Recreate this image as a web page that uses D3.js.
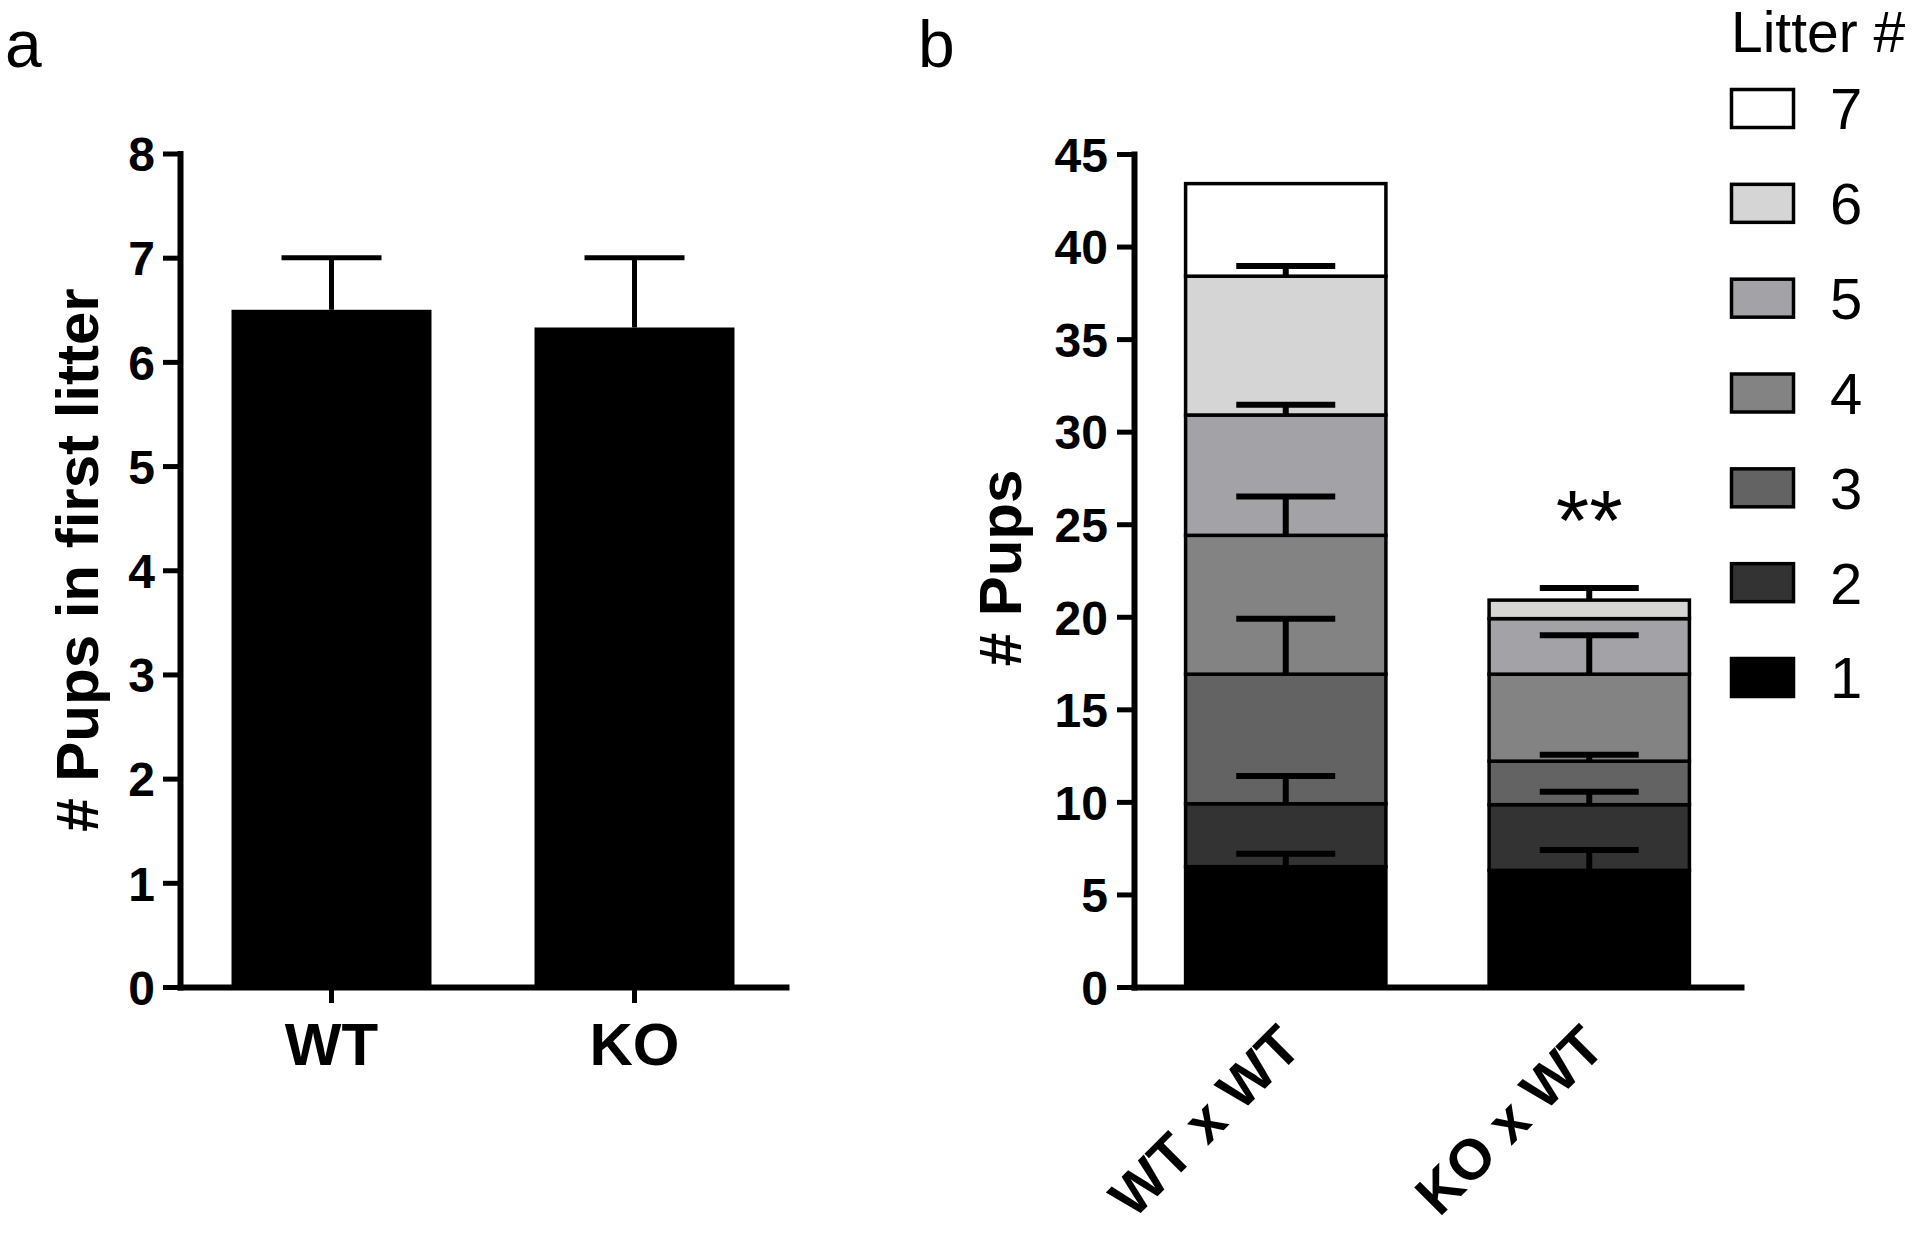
<!DOCTYPE html>
<html>
<head>
<meta charset="utf-8">
<script src="https://cdn.jsdelivr.net/npm/d3@7"></script>
<style>
  html, body { margin: 0; padding: 0; background: #fff; }
  svg { display: block; }
  text { font-family: "Liberation Sans", Arial, Helvetica, sans-serif; fill: #000; }
</style>
</head>
<body>
<svg id="chart" width="1920" height="1233"></svg>
<script>
// ---------- Data ----------
// Panel a
const groupsA = ["WT", "KO"];
const meansA = [6.5, 6.33];
const semA = [0.5, 0.67];
const ticksA = [0, 1, 2, 3, 4, 5, 6, 7, 8];

// Panel b
const groupsB = ["WT x WT", "KO x WT"];
const litters = ["1", "2", "3", "4", "5", "6", "7"];
const wtLitterPups = [6.5, 3.4, 7.0, 7.5, 6.5, 7.5, 5.0];
const koLitterPups = [6.3, 3.55, 2.35, 4.7, 3.0, 1.0, 0];
const wtLitterSem = [0.7, 1.5, 3.0, 2.1, 0.55, 0.55, 0];
const koLitterSem = [1.1, 0.7, 0.35, 2.1, 0, 0.65, 0];
const ticksB = [0, 5, 10, 15, 20, 25, 30, 35, 40, 45];
const significance = ["", "**"];

const litterColors = ["#000000", "#333333", "#636363", "#838383", "#a3a2a7", "#d5d5d5", "#ffffff"];

const svg = d3.select("#chart");
const FONT_TICK = 48, FONT_TITLE = 60;

// ---------- Panel a ----------
(function () {
  const x = d3.scaleBand().domain(groupsA).range([180, 786]).paddingInner(0.34).paddingOuter(0.17);
  const y = d3.scaleLinear().domain([0, 8]).range([987, 153.5]);
  const g = svg.append("g");

  g.selectAll("rect.bar").data(groupsA).join("rect")
    .attr("x", d => x(d)).attr("width", x.bandwidth())
    .attr("y", (d, i) => y(meansA[i])).attr("height", (d, i) => y(0) - y(meansA[i]))
    .attr("fill", "#000");

  groupsA.forEach((d, i) => {
    const cx = x(d) + x.bandwidth() / 2;
    g.append("line").attr("x1", cx).attr("x2", cx)
      .attr("y1", y(meansA[i])).attr("y2", y(meansA[i] + semA[i]))
      .attr("stroke", "#000").attr("stroke-width", 5);
    g.append("line").attr("x1", cx - 50).attr("x2", cx + 50)
      .attr("y1", y(meansA[i] + semA[i])).attr("y2", y(meansA[i] + semA[i]))
      .attr("stroke", "#000").attr("stroke-width", 5);
  });

  const ya = g.append("g").attr("transform", "translate(180,0)")
    .call(d3.axisLeft(y).tickValues(ticksA).tickSize(17).tickSizeOuter(0).tickPadding(8));
  ya.select(".domain").attr("stroke-width", 6).attr("stroke-linecap", "square");
  ya.selectAll(".tick line").attr("stroke-width", 5);
  ya.selectAll(".tick text").attr("font-size", FONT_TICK).attr("font-weight", "bold")
    .attr("font-family", "Liberation Sans, Arial, sans-serif").attr("dy", "0.36em");

  const xa = g.append("g").attr("transform", "translate(0,987)")
    .call(d3.axisBottom(x).tickSize(16).tickSizeOuter(0));
  xa.select(".domain").attr("stroke-width", 6).attr("stroke-linecap", "square");
  xa.selectAll(".tick line").attr("stroke-width", 5);
  xa.selectAll(".tick text").attr("font-size", FONT_TITLE).attr("font-weight", "bold")
    .attr("font-family", "Liberation Sans, Arial, sans-serif").attr("y", 78).attr("dy", 0);

  g.append("text").attr("transform", "translate(98,560) rotate(-90)")
    .attr("text-anchor", "middle").attr("font-size", FONT_TITLE).attr("font-weight", "bold")
    .text("# Pups in first litter");

  svg.append("text").attr("x", 5).attr("y", 67).attr("font-size", 66).text("a");
})();

// ---------- Panel b ----------
(function () {
  const x = d3.scaleBand().domain(groupsB).range([1134, 1741]).paddingInner(0.34).paddingOuter(0.17);
  const y = d3.scaleLinear().domain([0, 45]).range([987, 154]);
  const g = svg.append("g");

  const rows = groupsB.map((grp, gi) => {
    const vals = gi === 0 ? wtLitterPups : koLitterPups;
    const o = { group: grp };
    litters.forEach((l, li) => { o[l] = vals[li]; });
    return o;
  });
  const sems = [wtLitterSem, koLitterSem];
  const stack = d3.stack().keys(litters)(rows);

  stack.forEach((layer, li) => {
    g.selectAll(null).data(layer.filter(d => d[1] - d[0] > 0)).join("rect")
      .attr("x", d => x(d.data.group)).attr("width", x.bandwidth())
      .attr("y", d => y(d[1])).attr("height", d => y(d[0]) - y(d[1]))
      .attr("fill", litterColors[li]).attr("stroke", "#000").attr("stroke-width", 3.5);
  });

  stack.forEach((layer, li) => {
    layer.forEach((d, gi) => {
      const s = sems[gi][li];
      if (!(s > 0) || d[1] - d[0] <= 0) return;
      const cx = x(d.data.group) + x.bandwidth() / 2;
      g.append("line").attr("x1", cx).attr("x2", cx)
        .attr("y1", y(d[1])).attr("y2", y(d[1] + s))
        .attr("stroke", "#000").attr("stroke-width", 6);
      g.append("line").attr("x1", cx - 49.5).attr("x2", cx + 49.5)
        .attr("y1", y(d[1] + s)).attr("y2", y(d[1] + s))
        .attr("stroke", "#000").attr("stroke-width", 6);
    });
  });

  groupsB.forEach((grp, gi) => {
    if (!significance[gi]) return;
    g.append("text").attr("x", x(grp) + x.bandwidth() / 2).attr("y", 550)
      .attr("text-anchor", "middle").attr("font-size", 86).text(significance[gi]);
  });

  const ya = g.append("g").attr("transform", "translate(1134,0)")
    .call(d3.axisLeft(y).tickValues(ticksB).tickSize(17).tickSizeOuter(0).tickPadding(9));
  ya.select(".domain").attr("stroke-width", 6).attr("stroke-linecap", "square");
  ya.selectAll(".tick line").attr("stroke-width", 5);
  ya.selectAll(".tick text").attr("font-size", FONT_TICK).attr("font-weight", "bold")
    .attr("font-family", "Liberation Sans, Arial, sans-serif").attr("dy", "0.36em");

  const xa = g.append("g").attr("transform", "translate(0,987)")
    .call(d3.axisBottom(x).tickSize(0).tickSizeOuter(0));
  xa.select(".domain").attr("stroke-width", 6).attr("stroke-linecap", "square");
  xa.selectAll(".tick text").remove();
  xa.selectAll(".tick").each(function (d) {
    d3.select(this).append("text")
      .attr("transform", "translate(18,63) rotate(-45)")
      .attr("text-anchor", "end").attr("font-size", 57).attr("font-weight", "bold")
      .attr("font-family", "Liberation Sans, Arial, sans-serif")
      .attr("fill", "#000").text(d);
  });

  g.append("text").attr("transform", "translate(1021,568) rotate(-90)")
    .attr("text-anchor", "middle").attr("font-size", FONT_TITLE).attr("font-weight", "bold")
    .text("# Pups");

  const legendItems = litters.slice().reverse();
  const ly = d3.scalePoint().domain(legendItems).range([88, 657]);
  svg.append("text").attr("x", 1731).attr("y", 52).attr("font-size", 57).text("Litter #");
  const lg = svg.append("g");
  legendItems.forEach(l => {
    const li = litters.indexOf(l);
    lg.append("rect").attr("x", 1731.5).attr("y", ly(l) + 1.5).attr("width", 62).attr("height", 38)
      .attr("fill", litterColors[li]).attr("stroke", "#000").attr("stroke-width", 3.5);
    lg.append("text").attr("x", 1830).attr("y", ly(l) + 20.5).attr("dy", "0.36em")
      .attr("font-size", 58).text(l);
  });

  svg.append("text").attr("x", 918).attr("y", 67).attr("font-size", 66).text("b");
})();
</script>
</body>
</html>
